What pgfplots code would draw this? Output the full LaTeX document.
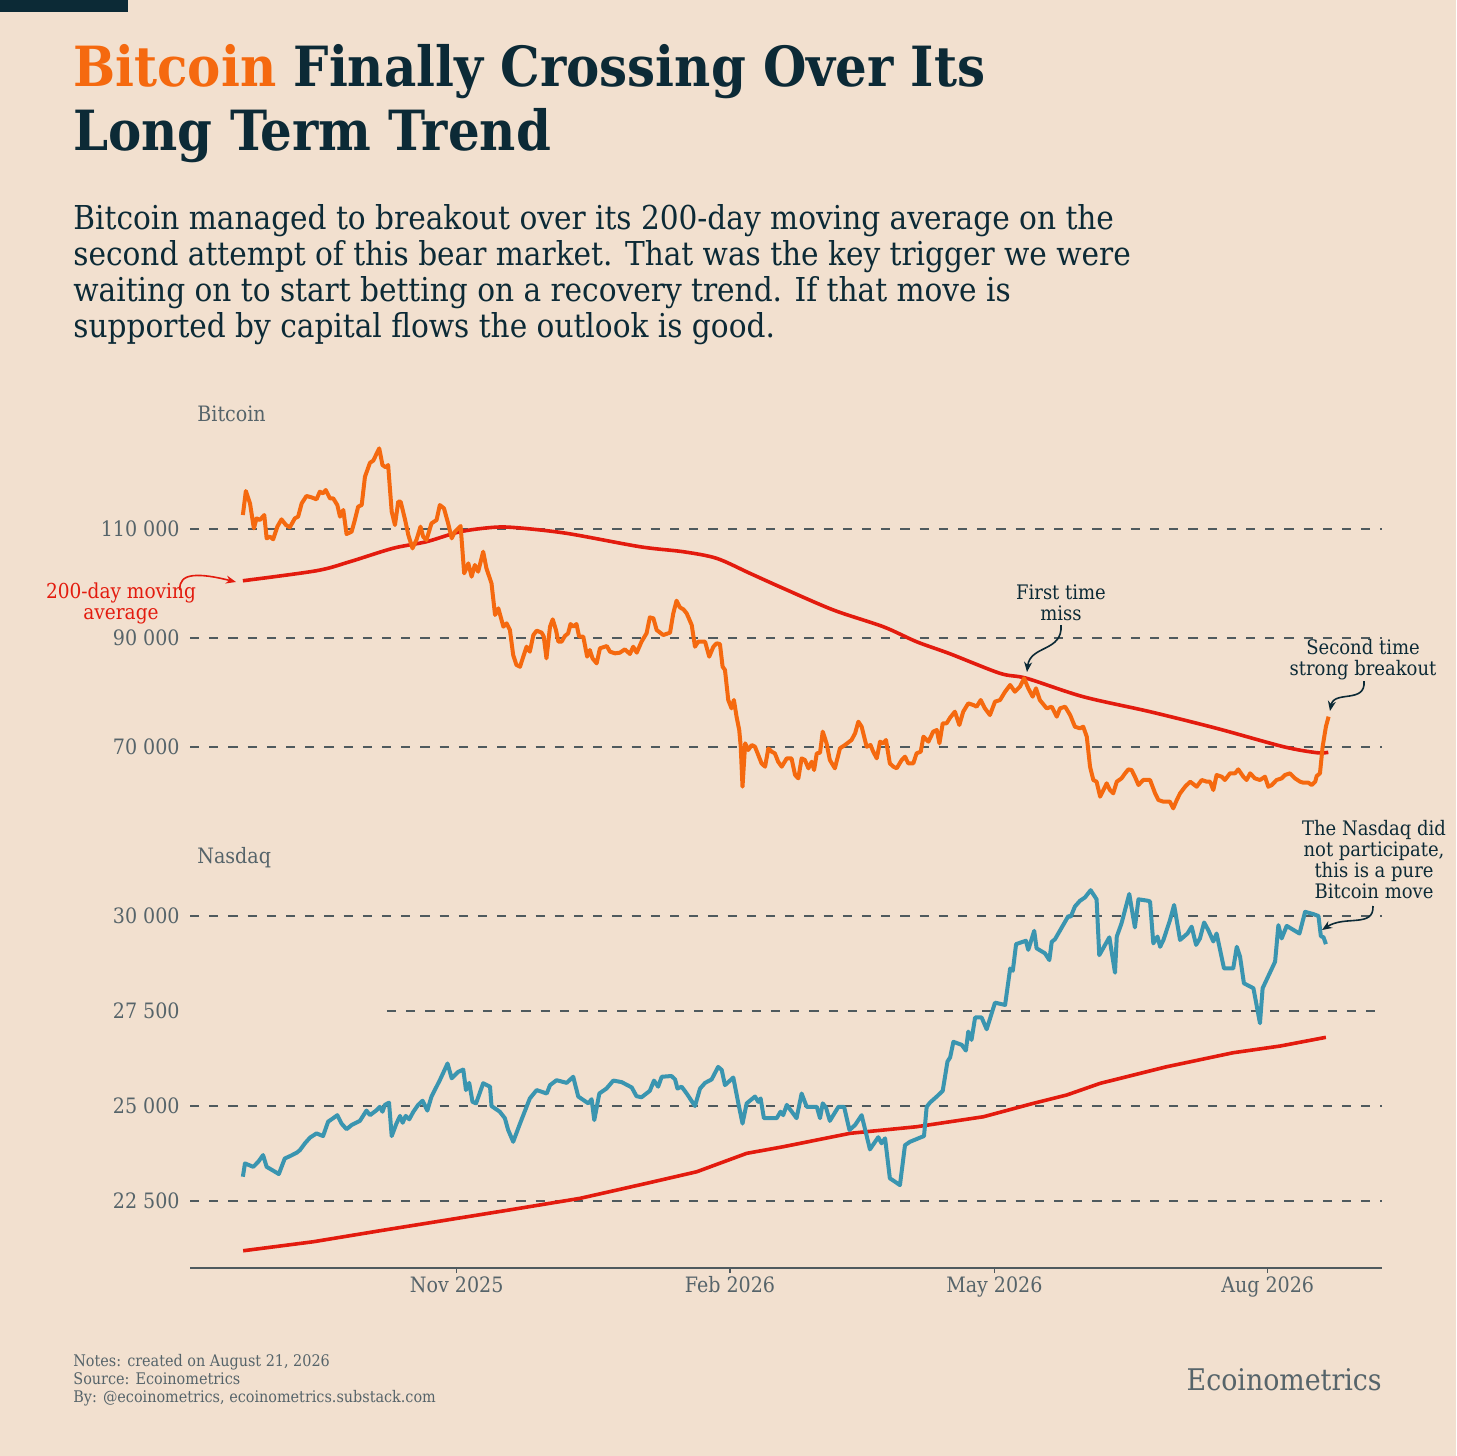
\documentclass[border=0pt]{standalone}
\usepackage{pgfplots}
\pgfplotsset{compat=1.18}
\usepackage{pgfplotstable}
\usepackage{fontspec}
\setmainfont{DejaVu Serif Condensed}
\usetikzlibrary{arrows.meta}
\definecolor{bg}{HTML}{F2E0CF}
\definecolor{darkb}{HTML}{0C2A36}
\definecolor{btc}{HTML}{F5690F}
\definecolor{mared}{HTML}{E31B0E}
\definecolor{ndq}{HTML}{3A95B0}
\definecolor{gridc}{HTML}{4F5A5E}
\definecolor{tickc}{HTML}{56646A}

\pgfplotstableread[row sep=\\]{
d v\\
0 112570\\ 1.0 116970\\ 2.4 114710\\ 3.7 110120\\ 4.6 111960\\ 5.7 111650\\ 7.2 112570\\ 8.0 108290\\ 9.1 108600\\ 10.2 108110\\
11.6 110430\\ 13.0 111770\\ 14.5 110740\\ 15.8 110310\\ 17.5 111960\\ 18.6 112270\\ 19.8 114710\\ 21.4 116060\\ 23.1 115810\\ 24.8 115450\\
25.9 116850\\ 27.0 116550\\ 27.9 117160\\ 29.3 115630\\ 30.4 115630\\ 31.8 114400\\ 32.7 112270\\ 33.8 113490\\ 34.9 109080\\ 36.6 109510\\
37.7 111650\\ 38.8 114100\\ 40.0 114400\\ 41.1 119600\\ 42.8 122170\\ 43.9 122540\\ 44.8 123580\\ 45.9 124800\\ 47.0 121740\\ 48.1 121320\\
48.9 121740\\ 50.1 113180\\ 51.2 110740\\ 52.3 115020\\ 53.1 115020\\ 54.5 111960\\ 55.7 108900\\ 57.1 106450\\ 58.5 108110\\ 59.8 110430\\
60.7 108600\\ 61.8 107980\\ 63.5 111040\\ 65.2 111650\\ 66.3 114400\\ 67.7 113790\\ 69.1 111040\\ 70.3 108290\\ 71.4 109510\\ 73.3 110550\\
74.5 101870\\ 75.9 103700\\ 77.0 101260\\ 78.1 103400\\ 79.2 102170\\ 80.9 105840\\ 82.0 102780\\ 83.7 100030\\ 84.9 94220\\ 86.0 95450\\
87.7 92080\\ 88.8 92690\\ 89.9 91470\\ 91.0 86880\\ 92.1 85050\\ 93.3 84740\\ 94.4 86580\\ 95.5 88410\\ 96.6 87490\\ 97.8 90550\\
98.9 91350\\ 100.6 90980\\ 101.3 90250\\ 102.2 86270\\ 103.4 92080\\ 104.3 93430\\ 105.4 91470\\ 106.2 89330\\ 107.3 89330\\ 108.4 90370\\
109.5 90860\\ 110.3 92570\\ 111.2 92080\\ 112.3 92570\\ 113.2 90250\\ 114.6 90250\\ 115.9 86580\\ 116.8 87800\\ 117.7 86270\\ 119.1 85350\\
120.2 88110\\ 122.5 88530\\ 123.6 87490\\ 125.3 87190\\ 126.9 87310\\ 128.6 87920\\ 130.3 87070\\ 131.4 88410\\ 132.6 87310\\ 134.2 89330\\
135.9 90860\\ 137.0 93790\\ 138.2 93610\\ 139.3 91470\\ 141.5 90550\\ 143.8 90980\\ 144.9 94530\\ 146.0 96850\\ 147.1 95630\\ 148.3 95260\\
149.4 94530\\ 151.1 92390\\ 152.2 88410\\ 153.3 89330\\ 155.6 89330\\ 157.0 86580\\ 158.4 88410\\ 159.5 89020\\ 160.6 88900\\ 161.5 84740\\
162.3 84130\\ 163.4 78630\\ 164.5 77100\\ 165.3 78630\\ 166.2 75570\\ 167.1 73120\\ 167.6 70060\\ 168.2 62720\\ 169.1 70680\\ 170.1 69450\\
171.3 70370\\ 172.4 70060\\ 173.5 68540\\ 174.6 67010\\ 175.8 66390\\ 176.9 69760\\ 178.0 69150\\ 179.1 68840\\ 180.2 67310\\ 181.4 66390\\
183.1 67920\\ 184.7 67920\\ 185.9 64870\\ 187.0 64250\\ 188.1 67920\\ 189.2 67620\\ 190.4 66090\\ 191.5 67310\\ 192.3 65780\\ 193.2 68840\\
194.3 68960\\ 195.2 72820\\ 196.5 70680\\ 197.6 67620\\ 199.3 66090\\ 201.0 69760\\ 202.7 70370\\ 204.9 71290\\ 206.1 72510\\ 207.2 74650\\
208.3 73740\\ 210.0 70060\\ 211.3 70370\\ 212.2 69150\\ 213.4 67920\\ 214.5 70980\\ 215.6 70680\\ 216.5 71290\\ 217.8 67010\\ 219.0 66390\\
220.1 66090\\ 221.8 67620\\ 222.9 68230\\ 224.0 67010\\ 225.7 67010\\ 226.8 68840\\ 228.2 69150\\ 229.1 71900\\ 230.8 70980\\ 232.4 72820\\
233.6 73120\\ 234.5 70680\\ 235.6 74350\\ 236.9 74350\\ 238.1 75400\\ 239.7 76480\\ 241.2 74040\\ 242.5 76480\\ 244.2 78010\\ 245.9 77710\\
247.0 77400\\ 248.4 78620\\ 249.8 77100\\ 251.5 75870\\ 253.2 78320\\ 254.9 78620\\ 256.6 80150\\ 258.3 81380\\ 259.9 80150\\ 261.6 81070\\
263.0 82600\\ 264.4 80770\\ 265.9 79240\\ 267.0 80770\\ 268.3 78620\\ 270.6 77100\\ 272.3 77400\\ 274.0 75570\\ 275.1 77100\\ 276.8 77400\\
278.5 75870\\ 280.1 73730\\ 281.8 73430\\ 282.9 73730\\ 284.1 71900\\ 285.2 66390\\ 286.3 63950\\ 287.4 63640\\ 288.6 60890\\ 289.7 62110\\
290.8 63340\\ 291.9 62110\\ 293.0 61500\\ 294.2 63640\\ 295.8 64250\\ 297.0 65170\\ 298.1 65900\\ 299.2 65780\\ 300.3 64560\\ 301.5 63030\\
303.1 63950\\ 305.4 63950\\ 307.1 61500\\ 308.2 60280\\ 309.9 59970\\ 312.1 59970\\ 313.2 58750\\ 314.4 60280\\ 315.5 61500\\ 317.2 62720\\
318.9 63640\\ 321.1 62720\\ 322.8 63950\\ 324.5 63640\\ 325.6 63640\\ 326.7 62110\\ 327.8 64860\\ 329.5 64560\\ 330.6 63950\\ 332.3 65170\\
334.0 65170\\ 335.1 65900\\ 336.8 64560\\ 337.9 63950\\ 339.1 65170\\ 340.7 64250\\ 342.4 63950\\ 344.1 64560\\ 345.2 62720\\ 346.4 63030\\
348.0 63950\\ 349.7 64250\\ 350.8 64860\\ 352.5 65170\\ 354.2 64250\\ 355.9 63640\\ 357.0 63460\\ 358.7 63460\\ 359.8 63030\\ 361.0 63640\\
361.5 64680\\ 362.6 65170\\ 363.5 70060\\ 364.6 73730\\ 365.5 75570\\
}\btc

\pgfplotstableread[row sep=\\]{
d v\\
0 100510\\ 24.8 102350\\ 36.0 104000\\ 50.5 106460\\ 61.8 107670\\ 73.1 109500\\ 84.3 110310\\ 92.2 110240\\ 109.0 109210\\
133.7 106750\\ 148.3 105830\\ 159.5 104620\\ 170.7 101870\\ 181.9 99120\\ 198.8 95140\\ 215.6 92070\\ 226.8 89320\\ 238.0 87120\\
254.9 83520\\ 263.9 82600\\ 282.9 79230\\ 305.4 76480\\ 327.8 73430\\ 350.3 70060\\ 361.5 68960\\ 365.4 69030\\
}\btcma

\pgfplotstableread[row sep=\\]{
d v\\
0 23140\\ 0.7 23490\\ 3.5 23400\\ 5.2 23535\\ 6.8 23710\\ 8.0 23400\\ 10.2 23300\\ 12.1 23210\\ 14.1 23620\\ 15.8 23680\\
18.1 23770\\ 19.2 23840\\ 20.9 24020\\ 22.6 24170\\ 24.8 24280\\ 27.0 24210\\ 28.7 24590\\ 30.4 24680\\ 31.8 24760\\ 33.2 24540\\
34.9 24390\\ 36.6 24500\\ 39.4 24610\\ 41.6 24880\\ 42.8 24760\\ 45.0 24890\\ 46.1 24980\\ 47.0 24850\\ 47.8 25030\\ 49.2 25090\\
50.1 24210\\ 51.7 24540\\ 52.9 24740\\ 53.8 24560\\ 54.8 24740\\ 56.0 24650\\ 57.4 24850\\ 59.0 25030\\ 60.5 25140\\ 62.1 24880\\
63.5 25250\\ 66.3 25680\\ 68.9 26120\\ 70.3 25730\\ 72.5 25900\\ 74.2 25960\\ 75.1 25420\\ 76.2 25610\\ 77.3 25110\\ 78.5 25070\\
80.9 25600\\ 83.2 25510\\ 83.7 25000\\ 86.5 24850\\ 88.2 24680\\ 89.3 24370\\ 91.0 24060\\ 93.3 24540\\ 96.6 25200\\ 98.9 25420\\
102.3 25330\\ 103.4 25550\\ 105.6 25680\\ 109.0 25610\\ 111.2 25770\\ 112.9 25250\\ 116.3 25070\\ 117.4 25180\\ 118.3 24630\\ 120.0 25330\\
122.4 25460\\ 124.7 25670\\ 127.5 25630\\ 130.9 25490\\ 132.5 25260\\ 134.2 25230\\ 137.0 25400\\ 138.4 25670\\ 139.8 25510\\ 141.0 25770\\
144.3 25790\\ 145.5 25700\\ 146.3 25460\\ 147.7 25510\\ 149.4 25330\\ 152.2 25000\\ 153.9 25460\\ 155.6 25610\\ 157.8 25700\\ 160.0 26030\\
161.2 25950\\ 162.3 25550\\ 165.1 25750\\ 166.8 25070\\ 168.2 24540\\ 169.6 25070\\ 172.4 25250\\ 173.5 25110\\ 174.3 25200\\ 175.4 24680\\
179.7 24680\\ 181.0 24850\\ 181.9 24760\\ 183.1 25030\\ 186.4 24680\\ 188.1 25330\\ 189.8 24980\\ 193.2 24980\\ 194.3 24680\\ 195.2 25070\\
196.3 24960\\ 197.6 24610\\ 200.5 24980\\ 202.4 24980\\ 204.2 24370\\ 206.1 24500\\ 208.3 24760\\ 211.1 23860\\ 213.9 24180\\ 215.0 24020\\
216.2 24150\\ 217.8 23100\\ 221.2 22920\\ 222.9 23970\\ 224.6 24060\\ 227.4 24150\\ 229.3 24210\\ 230.2 24980\\ 231.3 25090\\ 233.6 25250\\
235.6 25400\\ 237.2 26170\\ 238.1 26280\\ 239.2 26690\\ 242.0 26610\\ 243.4 26460\\ 244.2 26960\\ 245.3 26740\\ 246.5 27330\\ 248.7 27330\\
250.4 27020\\ 253.2 27720\\ 256.6 27660\\ 258.3 28620\\ 259.2 28560\\ 260.3 29260\\ 263.6 29350\\ 264.4 29110\\ 266.4 29610\\ 267.2 29150\\
270.0 29020\\ 271.5 28840\\ 272.3 29320\\ 273.4 29390\\ 277.9 30000\\ 278.7 29980\\ 280.1 30250\\ 281.8 30400\\ 283.5 30490\\ 285.4 30680\\
287.4 30440\\ 288.3 28970\\ 291.7 29440\\ 293.6 28510\\ 294.2 29460\\ 295.8 29810\\ 298.4 30580\\ 300.3 29700\\ 301.5 30440\\ 304.8 30400\\
305.4 30380\\ 306.5 29280\\ 307.9 29460\\ 308.8 29190\\ 309.9 29370\\ 312.1 29890\\ 313.5 30290\\ 315.5 29370\\ 318.0 29540\\ 319.4 29720\\
320.9 29240\\ 322.2 29410\\ 323.6 29830\\ 325.0 29630\\ 326.7 29330\\ 327.8 29540\\ 330.3 28620\\ 333.4 28620\\ 334.6 29190\\ 335.7 28930\\
337.0 28230\\ 340.2 28100\\ 342.4 27180\\ 343.3 28100\\ 347.5 28800\\ 348.6 29760\\ 349.7 29410\\ 351.4 29740\\ 355.7 29540\\ 357.6 30110\\
360.4 30050\\ 362.1 30000\\ 362.9 29470\\ 363.8 29440\\ 364.6 29260\\
}\ndq

\pgfplotstableread[row sep=\\]{
d v\\
0.1 21192\\ 23.7 21429\\ 46.1 21718\\ 68.6 22000\\ 91.0 22282\\ 113.5 22571\\ 135.9 22966\\ 152.8 23271\\ 169.6 23755\\ 181.9 23929\\
204.4 24282\\ 226.8 24455\\ 249.3 24718\\ 266.1 25071\\ 277.3 25289\\ 288.6 25597\\ 311.0 26034\\ 333.4 26403\\ 349.2 26579\\ 364.6 26808\\
}\ndqma

\begin{document}
\begin{tikzpicture}
\begin{scope}[x=0.5bp,y=0.5bp]
\fill[bg] (0,0) rectangle (1456,-1456);
\useasboundingbox (0,0) rectangle (1456,-1456);
\fill[darkb] (0,0) rectangle (128,-12);

% title
\node[anchor=base west, inner sep=0, text=darkb, font=\fontsize{27.7bp}{30bp}\selectfont\bfseries] at (73,-87) {\textcolor{btc}{Bitcoin} Finally Crossing Over Its};
\node[anchor=base west, inner sep=0, text=darkb, font=\fontsize{27.7bp}{30bp}\selectfont\bfseries] at (73,-150) {Long Term Trend};
% subtitle
\begin{scope}[every node/.style={anchor=base west, inner sep=0, text=darkb, font=\fontsize{16.45bp}{18bp}\selectfont}]
\node at (73,-229) {Bitcoin managed to breakout over its 200-day moving average on the};
\node at (73,-265) {second attempt of this bear market. That was the key trigger we were};
\node at (73,-301) {waiting on to start betting on a recovery trend. If that move is};
\node at (73,-337) {supported by capital flows the outlook is good.};
\end{scope}

% panel labels
\node[anchor=base west, inner sep=0, text=tickc, font=\fontsize{10.6bp}{12bp}\selectfont] at (197,-421) {Bitcoin};
\node[anchor=base west, inner sep=0, text=tickc, font=\fontsize{10.6bp}{12bp}\selectfont] at (197,-863) {Nasdaq};
\end{scope}

% top axis
\begin{axis}[at={(95bp,-415bp)}, anchor=south west, scale only axis,
  width=596bp, height=200bp,
  xmin=-17.8, xmax=383.5, ymin=54770, ymax=128165,
  axis line style={draw=none}, xtick=\empty,
  scaled y ticks=false,
  ytick={70000,90000,110000}, yticklabels={70 000,90 000,110 000},
  major tick length=0pt,
  yticklabel style={anchor=east, inner sep=0pt, xshift=-5bp, text=tickc, font=\fontsize{10.6bp}{12bp}\selectfont},
  ymajorgrids, grid style={draw=gridc, line width=1bp, dash pattern=on 4.6bp off 5bp},
  clip=false]
\addplot[mared, line width=1.8bp, smooth, no markers] table[x=d,y=v] {\btcma};
\addplot[btc, line width=2bp, line join=round, no markers] table[x=d,y=v] {\btc};
\end{axis}

% bottom axis
\begin{axis}[at={(95bp,-634bp)}, anchor=south west, scale only axis,
  width=596bp, height=199bp,
  xmin=-17.8, xmax=383.5, ymin=20737, ymax=31210,
  axis x line*=bottom, axis y line*=left,
  y axis line style={draw=none},
  x axis line style={draw=gridc, line width=1bp},
  scaled y ticks=false,
  xtick={72,164,253,345}, xticklabels={Nov 2025,Feb 2026,May 2026,Aug 2026},
  xtick align=outside, xtick style={draw=gridc, line width=0.6bp}, major tick length=2.5bp,
  ytick style={draw=none},
  xticklabel style={anchor=base, inner sep=0pt, yshift=-9.5bp, text=tickc, font=\fontsize{10.6bp}{12bp}\selectfont},
  ytick={22500,25000,27500,30000}, yticklabels={22 500,25 000,27 500,30 000},
  yticklabel style={anchor=east, inner sep=0pt, xshift=-5bp, text=tickc, font=\fontsize{10.6bp}{12bp}\selectfont},
  clip=false]
\draw[draw=gridc, line width=1bp, dash pattern=on 4.6bp off 5bp] (axis cs:-17.8,22500) -- (axis cs:383.5,22500);
\draw[draw=gridc, line width=1bp, dash pattern=on 4.6bp off 5bp] (axis cs:-17.8,25000) -- (axis cs:383.5,25000);
\draw[draw=gridc, line width=1bp, dash pattern=on 4.6bp off 5bp] (axis cs:48.5,27500) -- (axis cs:383.5,27500);
\draw[draw=gridc, line width=1bp, dash pattern=on 4.6bp off 5bp] (axis cs:-17.8,30000) -- (axis cs:383.5,30000);
\addplot[mared, line width=1.8bp, no markers, line join=round] table[x=d,y=v] {\ndqma};
\addplot[ndq, line width=2bp, line join=round, no markers] table[x=d,y=v] {\ndq};
\end{axis}

% annotations
\begin{scope}[x=0.5bp,y=0.5bp,
  ann/.style={font=\fontsize{10bp}{10.5bp}\selectfont, text=darkb, align=center, inner sep=0pt},
  arr/.style={draw=darkb, line width=0.8bp, -{Stealth[length=5bp,width=4bp]}}]
\node[ann, text=mared, font=\fontsize{10.3bp}{10.5bp}\selectfont] at (121,-603) {200-day moving\\average};
\draw[mared, line width=0.8bp, -{Stealth[length=5bp,width=4bp]}] (180,-590) .. controls (178,-572) and (200,-573) .. (236,-582);

\node[ann] at (1061,-603) {First time\\miss};
\draw[arr] (1061,-625) .. controls (1063,-652) and (1030,-645) .. (1027,-672);

\node[ann] at (1363,-660) {Second time\\strong breakout};
\draw[arr] (1364,-681) .. controls (1366,-704) and (1334,-690) .. (1330,-711);

\node[ann] at (1374,-860) {The Nasdaq did\\not participate,\\this is a pure\\Bitcoin move};
\draw[arr] (1373,-906) .. controls (1374,-928) and (1345,-915) .. (1322,-930);

% footer
\begin{scope}[every node/.style={anchor=base west, inner sep=0, text=tickc, font=\fontsize{8bp}{9bp}\selectfont}]
\node at (73,-1366) {Notes: created on August 21, 2026};
\node at (73,-1384) {Source: Ecoinometrics};
\node at (73,-1402) {By: @ecoinometrics, ecoinometrics.substack.com};
\end{scope}
\node[anchor=base east, inner sep=0, text=tickc, font=\fontsize{14.9bp}{16bp}\selectfont] at (1382,-1390) {Ecoinometrics};
\end{scope}
\end{tikzpicture}
\end{document}
